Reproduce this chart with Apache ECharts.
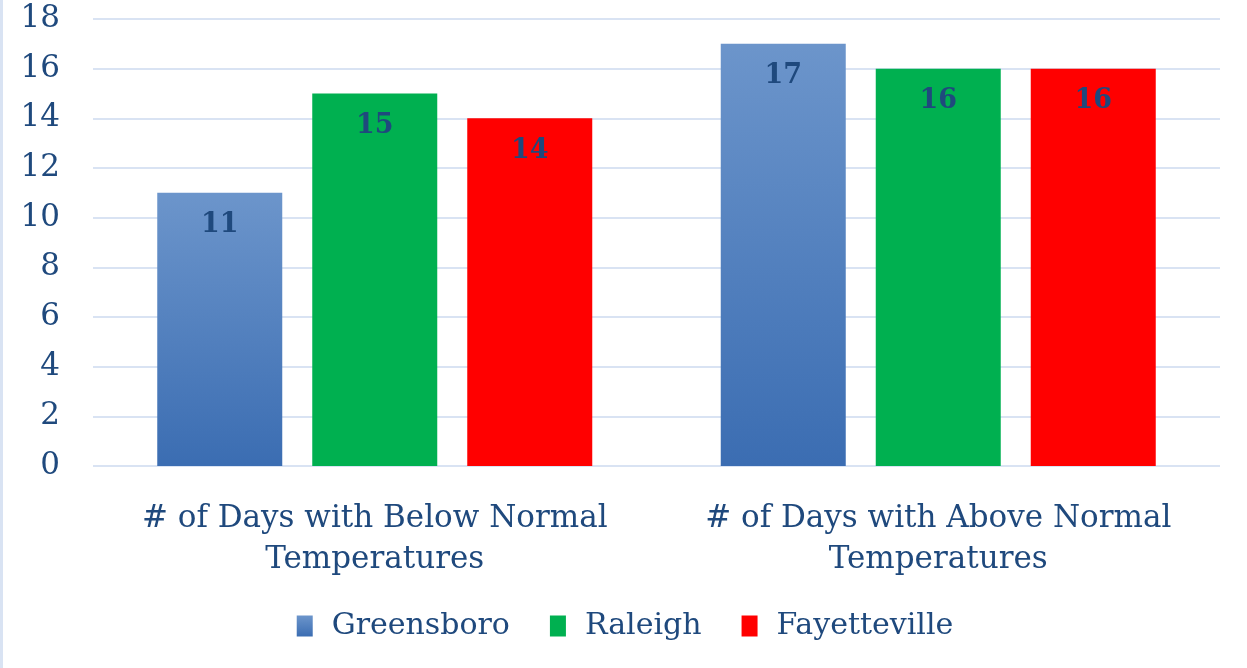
<!DOCTYPE html>
<html>
<head>
<meta charset="utf-8">
<script src="https://cdn.jsdelivr.net/npm/echarts@6/dist/echarts.min.js"></script>
<style>
  html, body { margin: 0; padding: 0; background: #fff; }
  #main { width: 1247px; height: 668px; border-left: 3px solid #d9e3f3; box-sizing: border-box; }
</style>
</head>
<body>
<div id="main"></div>
<script>
var categories = ['# of Days with Below Normal\nTemperatures', '# of Days with Above Normal\nTemperatures'];
var greensboro = [11, 17];
var raleigh = [15, 16];
var fayetteville = [14, 16];
var seriesNames = ['Greensboro', 'Raleigh', 'Fayetteville'];

var textColor = '#1f497d';
var font = 'DejaVu Serif';

var myChart = echarts.init(document.getElementById('main'));

function bar(name, data, color) {
    return {
        name: name,
        type: 'bar',
        data: data,
        barWidth: 125,
        barGap: '24%',
        itemStyle: { color: color },
        label: {
            show: true,
            position: 'insideTop',
            distance: 19,
            color: textColor,
            fontFamily: font,
            fontWeight: 'bold',
            fontSize: 27
        }
    };
}

var blueGrad = new echarts.graphic.LinearGradient(0, 0, 0, 1, [
    { offset: 0, color: '#6c95cb' },
    { offset: 1, color: '#3b6db2' }
]);

var option = {
    animation: false,
    grid: { left: 90, right: 27, top: 19, bottom: 202 },
    legend: {
        bottom: 22,
        itemWidth: 16,
        itemHeight: 21,
        itemGap: 40,
        icon: 'rect',
        textStyle: { color: textColor, fontFamily: font, fontSize: 30, padding: [0, 0, 0, 14] },
        data: seriesNames
    },
    xAxis: {
        type: 'category',
        data: categories,
        axisLine: { show: false },
        axisTick: { show: false },
        axisLabel: {
            interval: 0,
            hideOverlap: false,
            color: textColor,
            fontFamily: font,
            fontSize: 31,
            lineHeight: 41,
            margin: 32
        }
    },
    yAxis: {
        type: 'value',
        min: 0,
        max: 18,
        interval: 2,
        axisLabel: {
            color: textColor,
            fontFamily: font,
            fontSize: 31,
            margin: 33
        },
        splitLine: { lineStyle: { color: '#d9e3f3', width: 2 } }
    },
    series: [
        bar(seriesNames[0], greensboro, blueGrad),
        bar(seriesNames[1], raleigh, '#00b050'),
        bar(seriesNames[2], fayetteville, '#ff0000')
    ]
};
myChart.setOption(option);
</script>
</body>
</html>
